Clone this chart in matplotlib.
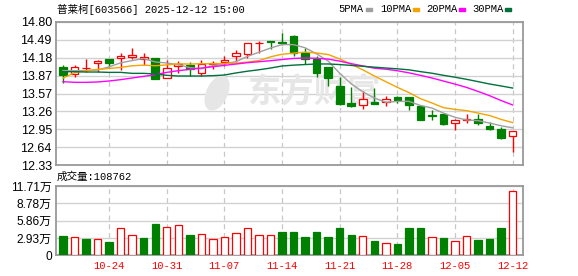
import matplotlib
matplotlib.use('Agg')
import matplotlib.pyplot as plt
from matplotlib.patches import Rectangle, Ellipse
from matplotlib.transforms import IdentityTransform
import numpy as np

W, H = 578, 276

# --- data ---
dates = ['10-24', '10-31', '11-07', '11-14', '11-21', '11-28', '12-05', '12-12']
date_idx = [4, 9, 14, 19, 24, 29, 34, 39]

opens = [14.015, 13.90, 14.00, 14.09, 14.158, 14.18, 14.187, 14.153, 14.176, 13.826,
         14.038, 14.055, 13.912, 14.078, 14.113, 14.221, 14.25, 14.43, 14.47, 14.455,
         14.558, 14.273, 14.153, 14.021, 13.694, 13.402, 13.374, 13.425, 13.414, 13.505,
         13.50, 13.351, 13.185, 13.213, 13.064, 13.099, 13.127, 13.007, 12.956, 12.830]
closes = [13.88, 14.03, 14.01, 14.12, 14.09, 14.22, 14.23, 14.19, 13.82, 14.00,
          14.07, 13.98, 14.08, 14.10, 14.15, 14.27, 14.43, 14.44, 14.46, 14.445,
          14.26, 14.16, 13.92, 13.84, 13.39, 13.35, 13.47, 13.39, 13.47, 13.46,
          13.36, 13.11, 13.17, 13.03, 13.10, 13.13, 13.05, 12.96, 12.80, 12.92]
highs = [14.05, 14.055, 14.153, 14.141, 14.165, 14.267, 14.348, 14.262, 14.18, 14.141,
         14.13, 14.101, 14.136, 14.124, 14.21, 14.325, 14.435, 14.473, 14.48, 14.617,
         14.58, 14.359, 14.21, 14.021, 13.855, 13.672, 13.603, 13.655, 13.528, 13.517,
         13.50, 13.355, 13.282, 13.213, 13.133, 13.208, 13.219, 13.07, 12.984, 12.92]
lows = [13.74, 13.843, 13.941, 13.935, 14.015, 13.969, 14.153, 14.055, 13.82, 13.826,
        13.924, 13.866, 13.866, 13.992, 14.044, 14.113, 14.181, 14.273, 14.33, 14.399,
        14.216, 14.073, 13.855, 13.694, 13.368, 13.339, 13.305, 13.391, 13.351, 13.397,
        13.282, 13.099, 13.099, 13.013, 12.927, 13.059, 13.024, 12.927, 12.772, 12.549]
prev_close = 13.95  # close before the first day (only sets the colour of bar 0)

ma5 = [13.96, 13.96, 13.96, 13.97, 14.026, 14.094, 14.134, 14.17, 14.11, 14.092,
       14.062, 14.012, 13.99, 14.046, 14.076, 14.116, 14.206, 14.278, 14.35, 14.41,
       14.409, 14.355, 14.249, 14.125, 13.914, 13.732, 13.594, 13.488, 13.414, 13.428,
       13.43, 13.358, 13.314, 13.226, 13.154, 13.108, 13.096, 13.054, 13.008, 12.972]
ma10 = [13.83, 13.924, 13.958, 13.981, 13.998, 14.015, 14.044, 14.055, 14.044, 14.059,
        14.078, 14.073, 14.08, 14.078, 14.084, 14.089, 14.108, 14.134, 14.198, 14.243,
        14.262, 14.28, 14.264, 14.238, 14.162, 14.07, 13.974, 13.868, 13.769, 13.671,
        13.581, 13.476, 13.401, 13.32, 13.291, 13.269, 13.227, 13.184, 13.117, 13.063]
ma20 = [13.769, 13.758, 13.758, 13.764, 13.781, 13.804, 13.833, 13.861, 13.89, 13.93,
        13.959, 13.982, 14.005, 14.028, 14.051, 14.074, 14.097, 14.114, 14.131, 14.152,
        14.171, 14.177, 14.173, 14.159, 14.124, 14.08, 14.042, 14.002, 13.985, 13.958,
        13.922, 13.879, 13.833, 13.78, 13.727, 13.67, 13.601, 13.527, 13.443, 13.367]
ma30 = [13.942, 13.942, 13.936, 13.936, 13.93, 13.93, 13.913, 13.913, 13.902, 13.879,
        13.867, 13.867, 13.867, 13.873, 13.884, 13.92, 13.95, 13.975, 14.005, 14.04,
        14.055, 14.065, 14.075, 14.075, 14.065, 14.05, 14.035, 14.02, 14.005, 13.991,
        13.974, 13.943, 13.915, 13.879, 13.846, 13.81, 13.77, 13.729, 13.695, 13.659]

# volume in 万 (10k lots)
volumes = [3.24, 3.02, 2.73, 2.67, 2.22, 4.55, 3.36, 2.90, 5.29, 4.72,
           5.06, 3.41, 3.53, 2.67, 3.02, 3.70, 4.55, 3.36, 3.36, 3.93,
           3.93, 3.07, 3.93, 3.07, 4.61, 3.41, 3.19, 2.39, 2.16, 1.88,
           4.61, 4.61, 3.02, 2.90, 2.50, 3.19, 2.56, 2.73, 4.61, 10.8762]

price_labels = ['12.33', '12.64', '12.95', '13.26', '13.57', '13.87', '14.18', '14.49', '14.80']
vol_labels = ['0', '2.93万', '5.86万', '8.78万', '11.71万']
ma_names = ['5PMA', '10PMA', '20PMA', '30PMA']

RED = '#ff0000'
GREEN = '#008000'
MA_COLORS = ['#a0a0a0', '#f5a300', '#ff00ff', '#00703c']
GRID = '#d2d2d2'
FRAME = '#999999'
MONO = ['Liberation Mono', 'Noto Sans CJK SC']
NUMS = ['Liberation Sans', 'Noto Sans CJK SC']


def fx(x, y):
    return x / W, 1 - y / H


fig = plt.figure(figsize=(W / 100, H / 100), dpi=100)
ax = fig.add_axes([56 / W, 1 - 165 / H, 466.7 / W, 143 / H])
axv = fig.add_axes([56 / W, 1 - 255.3 / H, 466.7 / W, 69.3 / H])

x = np.arange(len(closes))

for a in (ax, axv):
    a.set_xlim(-0.607, 39.87)
    a.set_xticks(date_idx)
    a.xaxis.grid(True, color='#c8c8c8', lw=0.9, ls=(0, (4, 3)))
    a.yaxis.grid(True, color=GRID, lw=1.0)
    a.set_axisbelow(True)
    for s in a.spines.values():
        s.set_color(FRAME)
        s.set_linewidth(1.3)
    a.tick_params(length=0, labelsize=9, pad=3)

ax.set_ylim(12.33, 14.80)
ax.set_yticks(np.linspace(12.33, 14.80, len(price_labels)))
ax.set_yticklabels(price_labels, family=NUMS, fontsize=9)
ax.set_xticklabels([])

axv.set_ylim(0, 11.71)
axv.set_yticks(np.linspace(0, 11.71, len(vol_labels)))
axv.set_yticklabels(vol_labels, family=NUMS, fontsize=8.6)
axv.set_xticklabels(dates, family=MONO, fontsize=7.6, color=RED)
axv.tick_params(axis='x', pad=4)

# watermark
ax.text(0.552, 0.50, '东方财富', transform=ax.transAxes, ha='center', va='center',
        fontsize=24, fontweight='bold', family=['Noto Sans CJK SC'], color='#e6e6e6', zorder=0.6)
ax.add_patch(Ellipse((217, H - 93), 20, 36, angle=-25, transform=IdentityTransform(),
                     color='#e6e6e6', zorder=0.6))

# candles
up = [c >= o for o, c in zip(opens, closes)]
cols = [RED if u else GREEN for u in up]
ax.vlines(x, lows, highs, colors=cols, lw=1.0, zorder=2)
bottoms = [min(o, c) for o, c in zip(opens, closes)]
heights = [max(abs(c - o), 0.004) for o, c in zip(opens, closes)]
ax.bar(x, heights, bottom=bottoms, width=0.66,
       facecolor=['white' if u else GREEN for u in up], edgecolor=cols, lw=0.9, zorder=3)

for ma, c in zip([ma5, ma10, ma20, ma30], MA_COLORS):
    ax.plot(x, ma, color=c, lw=1.0, zorder=4)

# volume, coloured by change vs previous close
prev = [prev_close] + closes[:-1]
vup = [c >= p for c, p in zip(closes, prev)]
axv.bar(x, volumes, width=0.64, facecolor=['white' if u else GREEN for u in vup],
        edgecolor=[RED if u else GREEN for u in vup], lw=0.9, zorder=3)

# header texts
fig.text(*fx(57, 9), '普莱柯[603566] 2025-12-12 15:00', ha='left', va='center',
         family=MONO, fontsize=7.6, color='black')
fig.text(*fx(57, 177), '成交量:108762', ha='left', va='center',
         family=MONO, fontsize=7.6, color='black')

leg_x = [338, 380, 426, 472]
dash_x = [366, 413, 459, 505]
for name, lx, dx, c in zip(ma_names, leg_x, dash_x, MA_COLORS):
    fig.text(*fx(lx, 9), name, ha='left', va='center', family=MONO, fontsize=7.6, color='black')
    fig.add_artist(Rectangle((dx, H - 10.5), 6, 3, transform=IdentityTransform(), color=c))

fig.savefig('out.png', dpi=100)
